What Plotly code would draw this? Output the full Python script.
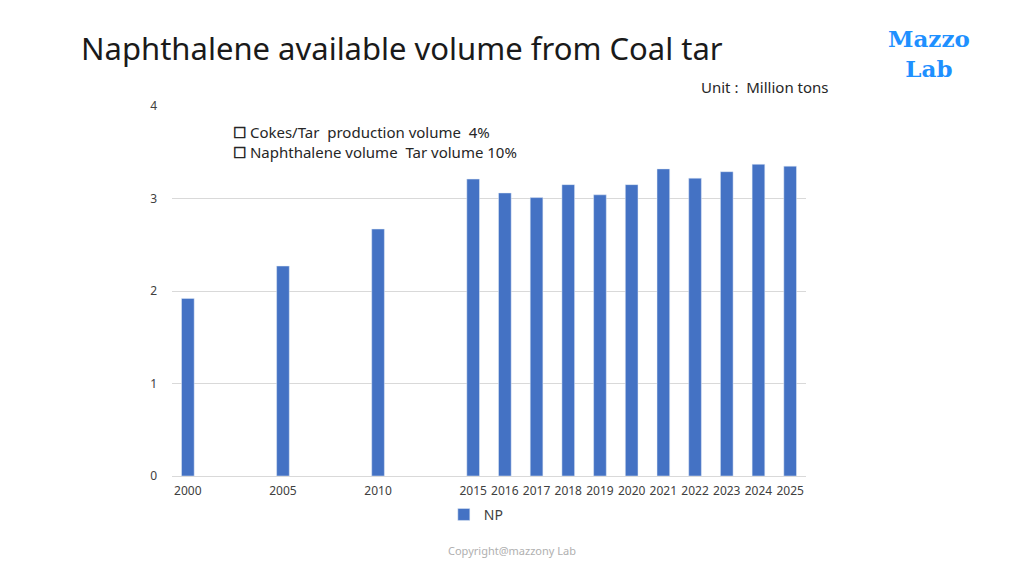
import plotly.graph_objects as go

# category slots, blanks keep the gaps between 2000/2005/2010/2015
categories = ["2000", "g1", "g2", "2005", "g3", "g4", "2010", "g5", "g6",
              "2015", "2016", "2017", "2018", "2019", "2020",
              "2021", "2022", "2023", "2024", "2025"]
np_values = [1.92, None, None, 2.27, None, None, 2.67, None, None,
             3.21, 3.06, 3.01, 3.15, 3.04, 3.15,
             3.32, 3.22, 3.29, 3.37, 3.35]
tick_labels = ["2000", "", "", "2005", "", "", "2010", "", "",
               "2015", "2016", "2017", "2018", "2019", "2020",
               "2021", "2022", "2023", "2024", "2025"]
notes = ["Cokes/Tar  production volume  4%",
         "Naphthalene volume  Tar volume 10%"]

fig = go.Figure()
fig.add_trace(go.Bar(x=categories, y=np_values, name="NP",
                     marker_color="#4472C4"))

font_main = "Noto Sans, Open Sans, sans-serif"

fig.update_layout(
    width=1008, height=560,
    margin=dict(l=164, r=210, t=98, b=92),
    paper_bgcolor="white", plot_bgcolor="white",
    bargap=0.6,
    showlegend=True,
    legend=dict(orientation="h", x=0.48, xanchor="center", y=-0.105,
                yanchor="middle", itemwidth=30,
                font=dict(size=14, color="#404040", family=font_main)),
    xaxis=dict(type="category", categoryorder="array", categoryarray=categories,
               tickvals=categories, ticktext=tick_labels,
               tickfont=dict(size=12, color="#404040", family=font_main),
               showgrid=False, showline=True, linecolor="#d9d9d9", ticks="",
               ticklabelstandoff=4),
    yaxis=dict(range=[0, 4], dtick=1, showgrid=True, gridcolor="#d9d9d9",
               zeroline=False, tickfont=dict(size=12, color="#404040", family=font_main),
               ticklabelstandoff=14),
    font=dict(family=font_main),
)

fig.add_annotation(text="Naphthalene available volume from Coal tar",
                   xref="paper", yref="paper", x=-0.147, y=1.157,
                   xanchor="left", yanchor="middle", showarrow=False,
                   font=dict(size=31, color="#1a1a1a", family=font_main))
fig.add_annotation(text="Unit :  Million tons", xref="paper", yref="paper",
                   x=1.039, y=1.051, xanchor="right", yanchor="middle", showarrow=False,
                   font=dict(size=15, color="#262626", family=font_main))
fig.add_annotation(text="<br>".join("<b>☐</b> " + n for n in notes),
                   xref="paper", yref="paper", x=0.093, y=0.903, xanchor="left",
                   yanchor="middle", align="left", showarrow=False,
                   font=dict(size=15, color="#262626", family=font_main))
fig.add_annotation(text="<b>Mazzo<br>Lab</b>", xref="paper", yref="paper",
                   x=1.194, y=1.141, xanchor="center", yanchor="middle",
                   showarrow=False,
                   font=dict(size=23, color="#1E90FF", family="DejaVu Serif"))
fig.add_annotation(text="Copyright@mazzony Lab", xref="paper", yref="paper",
                   x=0.536, y=-0.2, xanchor="center", yanchor="middle",
                   showarrow=False,
                   font=dict(size=11, color="#b0b0b0", family=font_main))

fig.write_html("out.html")
